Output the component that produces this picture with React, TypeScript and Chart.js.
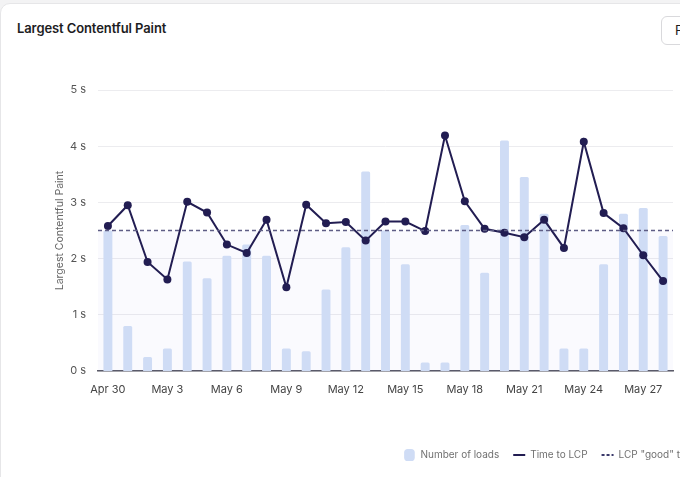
import React, { useEffect, useRef } from "react";
import { Chart, registerables } from "chart.js";

Chart.register(...registerables);

const categories = [
  "Apr 30", "May 1", "May 2", "May 3", "May 4", "May 5", "May 6", "May 7", "May 8", "May 9",
  "May 10", "May 11", "May 12", "May 13", "May 14", "May 15", "May 16", "May 17", "May 18", "May 19",
  "May 20", "May 21", "May 22", "May 23", "May 24", "May 25", "May 26", "May 27", "May 28",
];

const timeToLcp = [
  2.58, 2.95, 1.94, 1.63, 3.01, 2.82, 2.25, 2.1, 2.69, 1.49,
  2.96, 2.63, 2.65, 2.32, 2.66, 2.66, 2.49, 4.19, 3.02, 2.53,
  2.46, 2.38, 2.69, 2.19, 4.08, 2.81, 2.54, 2.06, 1.6,
];

const numberOfLoads = [
  50, 16, 5, 8, 39, 33, 41, 45, 41, 8,
  7, 29, 44, 71, 50, 38, 3, 3, 52, 35,
  82, 69, 56, 8, 8, 38, 56, 58, 48,
];

const lcpThreshold = 2.5;
const yTicks = [0, 1, 2, 3, 4, 5];
const loadsMax = 100;

const thresholdPlugin = {
  id: "thresholdPlugin",
  beforeDatasetsDraw(chart: any) {
    const { ctx, chartArea, scales } = chart;
    const y = scales.y.getPixelForValue(lcpThreshold);
    const y0 = scales.y.getPixelForValue(0);
    ctx.save();
    ctx.fillStyle = "rgba(110, 100, 230, 0.035)";
    ctx.fillRect(chartArea.left, y, chartArea.right - chartArea.left, y0 - y);
    ctx.restore();
  },
  afterDatasetsDraw(chart: any) {
    const { ctx, chartArea, scales } = chart;
    const y = scales.y.getPixelForValue(lcpThreshold);
    ctx.save();
    ctx.strokeStyle = "#5e5d85";
    ctx.lineWidth = 1.5;
    ctx.setLineDash([4, 3]);
    ctx.beginPath();
    ctx.moveTo(chartArea.left, y);
    ctx.lineTo(chartArea.right, y);
    ctx.stroke();
    ctx.restore();
  },
};

function LcpChart() {
  const ref = useRef<HTMLCanvasElement | null>(null);
  useEffect(() => {
    if (!ref.current) return;
    const chart = new Chart(ref.current, {
      type: "bar",
      data: {
        labels: categories,
        datasets: [
          {
            type: "line",
            label: "Time to LCP",
            data: timeToLcp,
            yAxisID: "y",
            borderColor: "#221d52",
            backgroundColor: "#221d52",
            borderWidth: 2,
            pointRadius: 4,
            pointBackgroundColor: "#221d52",
            pointBorderWidth: 0,
            tension: 0,
            order: 0,
          } as any,
          {
            type: "bar",
            label: "Number of loads",
            data: numberOfLoads,
            yAxisID: "y1",
            backgroundColor: "#cfdcf5",
            borderWidth: 0,
            borderRadius: 1.5,
            barPercentage: 0.45,
            categoryPercentage: 1,
            order: 1,
          } as any,
          {
            type: "line",
            label: 'LCP "good" threshold',
            data: [],
            yAxisID: "y",
            borderColor: "#3b3a6b",
            borderDash: [3, 2],
            borderWidth: 2,
          } as any,
        ],
      },
      options: {
        animation: false,
        responsive: true,
        maintainAspectRatio: false,
        layout: { padding: { top: 90, bottom: 7, left: 0, right: 0 } },
        plugins: {
          tooltip: { enabled: false },
          legend: {
            position: "bottom",
            align: "end",
            labels: {
              usePointStyle: true,
              pointStyleWidth: 12,
              boxHeight: 12,
              padding: 14,
              color: "#707070",
              font: { family: "Inter", size: 10 },
              generateLabels(chart: any) {
                const ds = chart.data.datasets;
                const order = [1, 0, 2];
                return order.map((i) => {
                  const d = ds[i];
                  if (i === 1) {
                    return {
                      text: d.label,
                      fillStyle: "#cfdcf5",
                      strokeStyle: "#cfdcf5",
                      lineWidth: 0,
                      pointStyle: "rectRounded",
                      datasetIndex: i,
                      fontColor: "#707070",
                    };
                  }
                  return {
                    text: d.label,
                    fillStyle: d.borderColor,
                    strokeStyle: d.borderColor,
                    lineWidth: 2,
                    lineDash: i === 2 ? [3, 2] : [],
                    pointStyle: "line",
                    datasetIndex: i,
                    fontColor: "#707070",
                  };
                });
              },
            },
          },
        },
        scales: {
          x: {
            grid: { display: false, drawTicks: false },
            border: { display: true, color: "#5a5a66", width: 1.5 },
            ticks: {
              autoSkip: false,
              maxRotation: 0,
              padding: 12,
              color: "#444",
              font: { family: "Inter", size: 11 },
              callback: (_v: any, i: number) => (i % 3 === 0 ? categories[i] : ""),
            },
            afterFit: (s: any) => {
              s.height = 65;
            },
          },
          y: {
            position: "left",
            min: 0,
            max: 5,
            afterBuildTicks: (s: any) => {
              s.ticks = yTicks.map((v) => ({ value: v }));
            },
            grid: { color: "#ececef", drawTicks: false },
            border: { display: false },
            ticks: {
              padding: 12,
              color: "#555",
              font: { family: "Inter", size: 11 },
              callback: (v: any) => `${v} s`,
            },
            title: {
              display: true,
              text: "Largest Contentful Paint",
              color: "#666",
              font: { family: "Inter", size: 10.5 },
              padding: { top: 54, bottom: 0 },
            },
            afterFit: (s: any) => {
              s.width = 98;
            },
          },
          y1: {
            position: "right",
            min: 0,
            max: loadsMax,
            grid: { display: false, drawTicks: false },
            border: { display: false },
            ticks: { display: false },
            afterFit: (s: any) => {
              s.width = 62;
            },
          },
        },
      },
      plugins: [thresholdPlugin],
    });
    return () => chart.destroy();
  }, []);
  return (
    <div style={{ position: "absolute", left: 0, top: 0, width: 735, height: 477 }}>
      <canvas ref={ref} />
    </div>
  );
}

export default function App() {
  return (
    <div
      style={{
        position: "fixed",
        left: 0,
        top: 0,
        width: 680,
        height: 477,
        overflow: "hidden",
        background: "#f3f3f4",
        fontFamily: "Inter, sans-serif",
      }}
    >
      <div
        style={{
          position: "absolute",
          left: 0,
          top: 3,
          width: 780,
          height: 520,
          background: "#fff",
          border: "1px solid #e6e6e8",
          borderRadius: 10,
          boxSizing: "border-box",
        }}
      />
      <div
        style={{
          position: "absolute",
          left: 17,
          top: 20,
          fontSize: 13,
          fontWeight: 600,
          color: "#1d1d1f",
          letterSpacing: -0.1,
        }}
      >
        Largest Contentful Paint
      </div>
      <div
        style={{
          position: "absolute",
          left: 661,
          top: 16,
          width: 80,
          height: 29,
          border: "1px solid #d9d9dc",
          borderRadius: 6,
          boxSizing: "border-box",
          fontSize: 13,
          color: "#1d1d1f",
          paddingLeft: 13,
          lineHeight: "27px",
          background: "#fff",
        }}
      >
        Filters
      </div>
      <LcpChart />
    </div>
  );
}
